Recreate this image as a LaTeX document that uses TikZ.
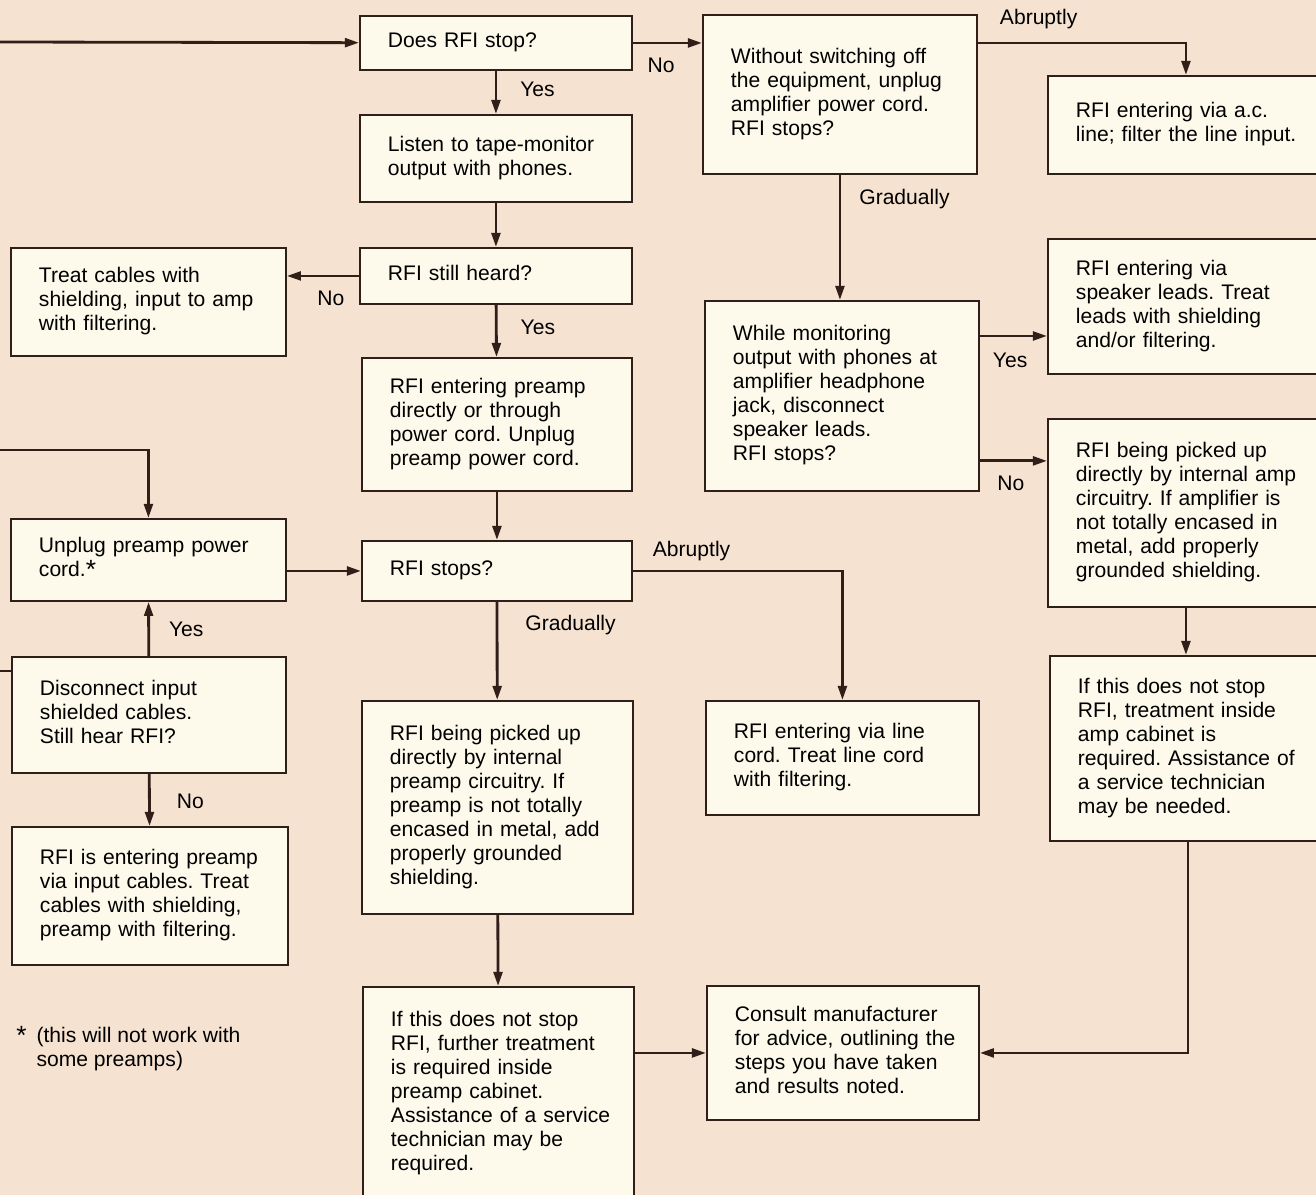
\documentclass[tikz,border=0pt]{standalone}
\usepackage{fontspec}
\setmainfont{Liberation Sans}
\usetikzlibrary{arrows.meta}

\definecolor{bgpeach}{RGB}{246,226,209}
\definecolor{boxcream}{RGB}{253,250,236}
\definecolor{inkbrown}{RGB}{48,30,24}
\newcommand{\rows}[1]{\begin{tabular}{@{}l@{}}#1\end{tabular}}
\newcommand{\notemark}{\raisebox{-0.1em}{\fontsize{15}{15}\selectfont *}}
\frenchspacing

\begin{document}
\begin{tikzpicture}[x=0.02cm, y=-0.02cm,
	font=\fontsize{12}{13.66}\selectfont,
	box/.style={draw=inkbrown, line width=1.1pt, fill=boxcream, anchor=north west,
		inner xsep=0.56cm, inner ysep=0pt},
	conn/.style={draw=inkbrown, line width=1.6pt, -{Triangle[length=8pt,width=5pt]}},
	lbl/.style={inner sep=0pt}]
% PAGE
	\useasboundingbox (0,0) rectangle (1316,1195);
	\fill [bgpeach] (0,0) rectangle (1316,1195);
	\clip (0,0) rectangle (1316,1195);

% PREAMP BRANCH
	\node [box, text width=4.32cm, minimum height=1.08cm] (q1) at (359,15)
	{\rows{Does RFI stop?}};
	\node [box, text width=4.32cm, minimum height=1.74cm] (listen) at (359,114)
	{\rows{Listen to tape-monitor\\output with phones.}};
	\node [box, text width=4.32cm, minimum height=1.12cm] (heard) at (359,247)
	{\rows{RFI still heard?}};
	\node [box, text width=4.38cm, minimum height=2.16cm] (treatcab) at (10,247)
	{\rows{Treat cables with\\shielding, input to amp\\with filtering.}};
	\node [box, text width=4.28cm, minimum height=2.66cm] (preamp) at (361,357)
	{\rows{RFI entering preamp\\directly or through\\power cord. Unplug\\preamp power cord.}};
	\node [box, text width=4.38cm, minimum height=1.64cm] (unplug) at (10,518)
	{\rows{Unplug preamp power\\cord.\notemark}};
	\node [box, text width=4.28cm, minimum height=1.2cm] (stops) at (361,540)
	{\rows{RFI stops?}};
	\node [box, text width=4.36cm, minimum height=2.32cm] (discon) at (11,656)
	{\rows{Disconnect input\\shielded cables.\\Still hear RFI?}};
	\node [box, text width=4.40cm, minimum height=2.76cm] (inputcab) at (11,826)
	{\rows{RFI is entering preamp\\via input cables. Treat\\cables with shielding,\\preamp with filtering.}};
	\node [box, text width=4.30cm, minimum height=4.26cm] (pickpre) at (361,700)
	{\rows{RFI being picked up\\directly by internal\\preamp circuitry. If\\preamp is not totally\\encased in metal, add\\properly grounded\\shielding.}};
	\node [box, text width=4.30cm, minimum height=4.28cm] (cabpre) at (362,986)
	{\rows{If this does not stop\\RFI, further treatment\\is required inside\\preamp cabinet.\\Assistance of a service\\technician may be\\required.}};

% AMPLIFIER BRANCH
	\node [box, text width=4.36cm, minimum height=3.18cm] (unplugamp) at (702,14)
	{\rows{Without switching off\\the equipment, unplug\\amplifier power cord.\\RFI stops?}};
	\node [box, text width=4.40cm, minimum height=1.96cm] (acline) at (1047,75)
	{\rows{RFI entering via a.c.\\line; filter the line input.}};
	\node [box, text width=4.36cm, minimum height=3.8cm] (phones) at (704,300)
	{\rows{While monitoring\\output with phones at\\amplifier headphone\\jack, disconnect\\speaker leads.\\RFI stops?}};
	\node [box, text width=4.40cm, minimum height=2.7cm] (speaker) at (1047,238)
	{\rows{RFI entering via\\speaker leads. Treat\\leads with shielding\\and/or filtering.}};
	\node [box, text width=4.40cm, minimum height=3.76cm] (pickamp) at (1047,418)
	{\rows{RFI being picked up\\directly by internal amp\\circuitry. If amplifier is\\not totally encased in\\metal, add properly\\grounded shielding.}};
	\node [box, text width=4.34cm, minimum height=2.28cm] (linecord) at (705,700)
	{\rows{RFI entering via line\\cord. Treat line cord\\with filtering.}};
	\node [box, text width=4.40cm, minimum height=3.7cm] (cabamp) at (1049,655)
	{\rows{If this does not stop\\RFI, treatment inside\\amp cabinet is\\required. Assistance of\\a service technician\\may be needed.}};
	\node [box, text width=4.32cm, minimum height=2.68cm] (maker) at (706,985)
	{\rows{Consult manufacturer\\for advice, outlining the\\steps you have taken\\and results noted.}};

% FOOTNOTE
	\node [anchor=west, inner sep=0pt] (note) at (16,1050)
	{\begin{tabular}{@{}l@{\hspace{0.2cm}}l@{}}\notemark&(this will not work with\\&some preamps)\end{tabular}};

% CONNECTORS, PREAMP SIDE
	\coordinate (feed) at (0,42);
	\draw [conn] (feed) -- (q1);
	\draw [conn] (q1) -- node [lbl, pos=0.43, anchor=west, xshift=0.46cm] {Yes} (listen);
	\draw [conn] (listen) -- (heard);
	\draw [conn] (heard.west) -- node [lbl, pos=0.39, anchor=north, yshift=-0.27cm] {No}
	(heard.west -| treatcab.east);
	\draw [conn] (heard) -- node [lbl, pos=0.43, anchor=west, xshift=0.46cm] {Yes} (preamp);
	\draw [conn] (preamp) -- (stops);
	\draw [conn] (unplug.east |- stops) -- (stops.west);
	\draw [conn] (discon) -- node [lbl, pos=0.5, anchor=west, xshift=0.38cm] {Yes} (unplug);
	\draw [conn] (discon) -- node [lbl, pos=0.52, anchor=west, xshift=0.52cm] {No} (inputcab);
	\draw [conn] (stops) -- node [lbl, pos=0.24, anchor=west, xshift=0.54cm] {Gradually} (pickpre);
	\draw [conn] (stops.east) -| node [lbl, pos=0.14, anchor=south, yshift=0.18cm] {Abruptly}
	(linecord.north);
	\draw [conn] (pickpre) -- (cabpre);
	\draw [conn] (cabpre.east |- maker) -- (maker.west);

% CONNECTORS, AMPLIFIER SIDE
	\draw [conn] (q1.east) -- node [lbl, pos=0.41, anchor=north, yshift=-0.28cm] {No}
	(q1.east -| unplugamp.west);
	\draw [conn] (unplugamp.east |- q1) -| node [lbl, pos=0.146, anchor=south, yshift=0.26cm] {Abruptly}
	(acline.north);
	\draw [conn] (unplugamp.south) -- node [lbl, pos=0.19, anchor=west, xshift=0.36cm] {Gradually}
	(unplugamp.south |- phones.north);
	\coordinate (spk) at ([yshift=-0.72cm]phones.north east);
	\draw [conn] (spk) -- node [lbl, pos=0.45, anchor=north, yshift=-0.32cm] {Yes} (spk -| speaker.west);
	\coordinate (amp) at ([yshift=0.62cm]phones.south east);
	\draw [conn] (amp) -- node [lbl, pos=0.46, anchor=north, yshift=-0.28cm] {No} (amp -| pickamp.west);
	\draw [conn] (pickamp.south) -- (pickamp.south |- cabamp.north);
	\draw [conn] (cabamp.south) |- (maker.east);

% LINES FROM OFF THE PAGE
	\coordinate (fromleft) at (0,450);
	\draw [conn] (fromleft) -| (unplug.north);
	\coordinate (toleft) at (0,671);
	\draw [draw=inkbrown, line width=1.6pt] (discon.west |- toleft) -- (toleft);

\end{tikzpicture}
\end{document}
